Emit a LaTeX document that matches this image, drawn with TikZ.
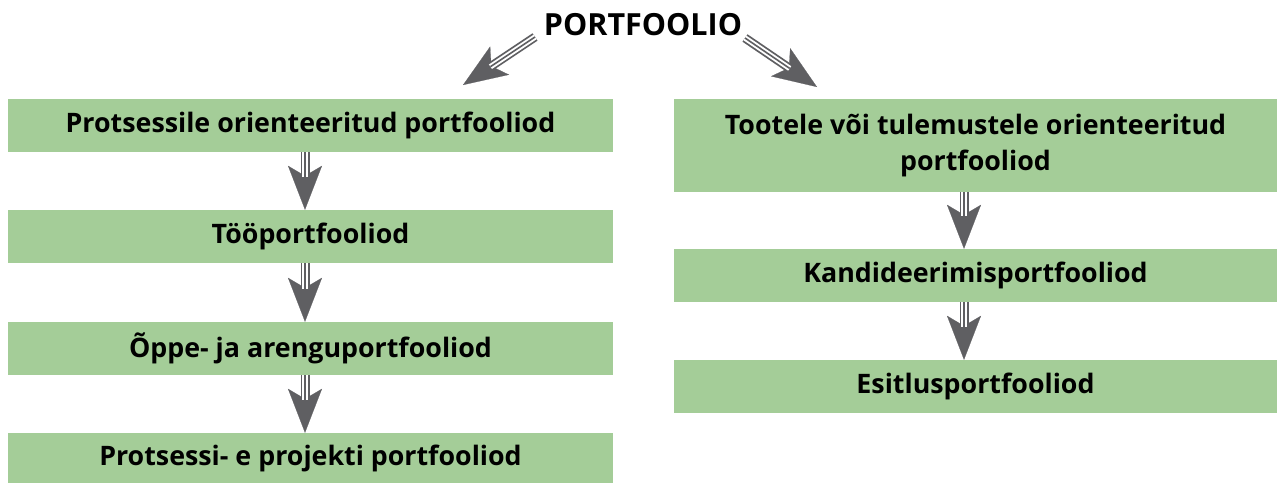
\documentclass[tikz,border=0pt]{standalone}
\usepackage{fontspec}
\setmainfont{Open Sans}
\usetikzlibrary{arrows.meta}
\definecolor{boxgreen}{HTML}{A4CD98}
\definecolor{arrowgray}{HTML}{5F5F62}
\tikzset{
  box/.style={fill=boxgreen, draw=none, inner sep=0pt, align=center,
    font=\fontsize{26.8}{36}\selectfont\bfseries, text=black},
  lbox/.style={box, minimum width=605pt, minimum height=53pt},
  rbox/.style={box, minimum width=603pt, minimum height=53pt},
  headpath/.style={draw=arrowgray, line width=0.2pt,
    -{Stealth[length=44pt, width=34pt, inset=10pt, fill=arrowgray, color=arrowgray]}},
  shaftpath/.style={draw=arrowgray, line width=9pt, shorten >=33pt,
    postaction={draw=white, line width=5.4pt, shorten >=33pt},
    postaction={draw=arrowgray, line width=1.6pt, shorten >=33pt}},
}
\begin{document}
\begin{tikzpicture}[x=1pt,y=-1pt]
\useasboundingbox (0,0) rectangle (1277,482);
\node[font=\fontsize{30.5}{34}\selectfont\bfseries] (title) at (643,25) {PORTFOOLIO};
\node[lbox] (l1) at (310.5,125.5) {Protsessile orienteeritud portfooliod};
\node[lbox] (l2) at (310.5,236.5) {Tööportfooliod};
\node[lbox] (l3) at (310.5,348.5) {Õppe- ja arenguportfooliod};
\node[lbox] (l4) at (310.5,458) [minimum height=50pt] {Protsessi- e projekti portfooliod};
\node[rbox, minimum height=93pt] (r1) at (975.5,145.5) {Tootele või tulemustele orienteeritud\\portfooliod};
\node[rbox] (r2) at (975.5,275.5) {Kandideerimisportfooliod};
\node[rbox] (r3) at (975.5,386.5) {Esitlusportfooliod};
\coordinate (tl) at (535,37);
\coordinate (tr) at (745,38);
\coordinate (ltip) at (463,85);
\coordinate (rtip) at (817,87);
% diagonal arrows
\draw[headpath] (tl) -- (ltip);
\draw[shaftpath] (tl) -- (ltip);
\draw[headpath] (tr) -- (rtip);
\draw[shaftpath] (tr) -- (rtip);
% vertical arrows
\foreach \a/\b in {l1/l2,l2/l3,l3/l4}{
  \draw[headpath] ([xshift=-5.5pt]\a.south) -- ([xshift=-5.5pt]\b.north);
  \draw[shaftpath] ([xshift=-5.5pt]\a.south) -- ([xshift=-5.5pt]\b.north);
}
\foreach \a/\b in {r1/r2,r2/r3}{
  \draw[headpath] ([xshift=-11.5pt]\a.south) -- ([xshift=-11.5pt]\b.north);
  \draw[shaftpath] ([xshift=-11.5pt]\a.south) -- ([xshift=-11.5pt]\b.north);
}
\end{tikzpicture}
\end{document}
